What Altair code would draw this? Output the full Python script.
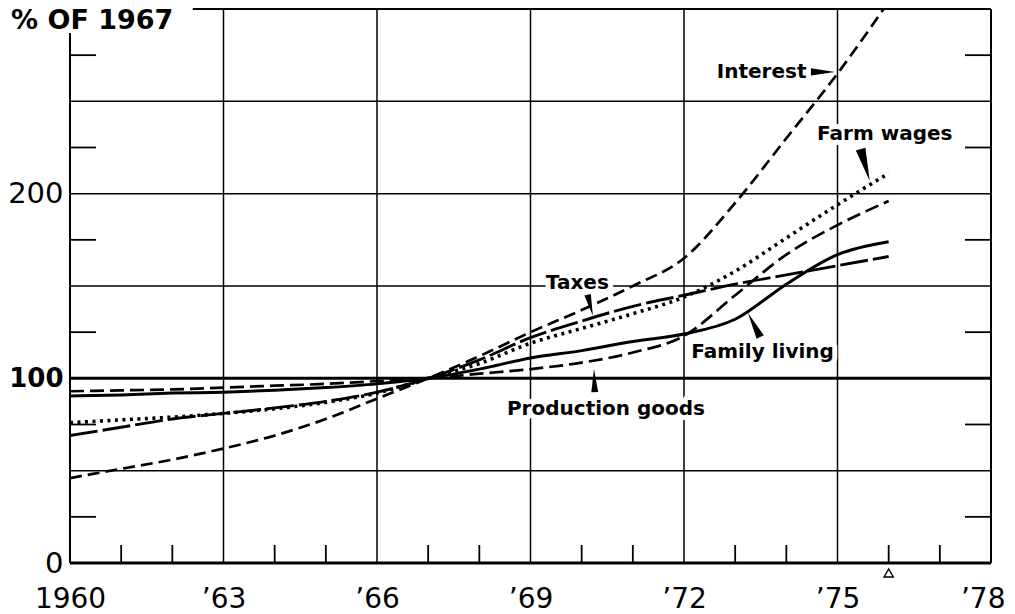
import altair as alt
import pandas as pd

# ---------------- data ----------------
years = list(range(1960, 1977))
interest = [46, 51, 56, 62, 69, 78, 89, 100, 112, 125, 137, 150, 165, 195, 230, 265, 304]
taxes = [69, 73.5, 78, 81, 84, 87.5, 92.5, 100, 110, 122, 131, 139, 145, 151, 156, 161, 166]
farm_wages = [76, 77.5, 79, 81, 83.5, 87, 92, 100, 108, 119, 127, 135, 144, 158, 176, 194, 211]
family_living = [90.5, 91, 92, 92.5, 93.5, 95, 97, 100, 105, 111, 115, 120, 124, 132, 151, 167, 174]
production_goods = [93, 93.5, 94, 95, 96, 97, 98.5, 100, 102.5, 105, 108.5, 114, 123, 145, 167, 183, 196]

series_names = ["Interest", "Taxes", "Farm wages", "Family living", "Production goods"]
series_values = [interest, taxes, farm_wages, family_living, production_goods]

# annotation labels (data coordinates of text start / baseline)
label_text = ["Interest", "Farm wages", "Taxes", "Family living", "Production goods"]
label_year = [1972.64, 1974.6, 1969.3, 1972.14, 1968.54]
label_value = [262.6, 229.0, 148.4, 111.0, 80.1]

# pointer wedges (tip position in data coordinates)
arrow_year = [1974.95, 1975.63, 1970.22, 1973.25, 1970.24]
arrow_value = [265.9, 206.9, 133.7, 135.4, 105.0]
arrow_angle = [90, 164, 166, 333, 358]
arrow_length = [24, 33, 22, 27, 23]

# axis / grid structure
major_years = [1960, 1963, 1966, 1969, 1972, 1975, 1978]
minor_years = [y for y in range(1961, 1978) if y not in major_years]
y_label_values = [0, 100, 200]
grid_values = [50, 150, 200, 250]
minor_values = [25, 75, 125, 175, 225, 275]
title_text = "% OF 1967"
prelim_year = [1976]

# ---------------- styling ----------------
W, H = 921, 554
FONT = "DejaVu Sans"
line_styles = {
    "Interest": dict(strokeDash=[12, 6], strokeWidth=2.7),
    "Taxes": dict(strokeDash=[28, 5], strokeWidth=2.9),
    "Farm wages": dict(strokeDash=[3, 4.5], strokeWidth=3.6),
    "Family living": dict(strokeWidth=3.0),
    "Production goods": dict(strokeDash=[14, 6], strokeWidth=2.7),
}

xs = alt.Scale(domain=[1960, 1978], nice=False, zero=False)
ys = alt.Scale(domain=[0, 300], nice=False, zero=False)

xaxis = alt.Axis(
    values=major_years,
    labelExpr="datum.value == 1960 ? '1960' : '\u2019' + substring(toString(datum.value), 2, 4)",
    grid=False, domain=False, ticks=False, tickSize=0,
    labelFont=FONT, labelFontSize=28, labelColor="black",
    labelPadding=44, labelBaseline="alphabetic",
    labelAlign=alt.condition("datum.value == 1978", alt.value("right"), alt.value("center")),
    labelOffset=alt.condition("datum.value == 1978", alt.value(14), alt.value(0)),
    labelFlush=False, labelOverlap=False, title=None,
)
yaxis = alt.Axis(
    values=y_label_values,
    grid=False, domain=False, ticks=False, tickSize=0,
    labelFont=FONT, labelColor="black",
    labelFontSize=alt.condition("datum.value == 100", alt.value(26), alt.value(29)),
    labelFontWeight=alt.condition("datum.value == 100", alt.value("bold"), alt.value("normal")),
    labelPadding=7, labelFlush=False, labelOverlap=False, title=None,
)


def X(field):
    return alt.X(field, type="quantitative", scale=xs, axis=xaxis)


def Y(field):
    return alt.Y(field, type="quantitative", scale=ys, axis=yaxis)


# ---------------- structural lines ----------------
seg = {"x": [], "x2": [], "y": [], "y2": [], "w": []}


def add(x, x2, y, y2, w):
    seg["x"].append(x); seg["x2"].append(x2); seg["y"].append(y); seg["y2"].append(y2); seg["w"].append(w)


for yr in major_years[1:-1]:
    add(yr, yr, 0, 300, 1.5)
for v in grid_values:
    add(1960, 1978, v, v, 1.5)
add(1960, 1978, 100, 100, 3)
add(1960, 1978, 0, 0, 3)
add(1962.4, 1978, 300, 300, 2)   # top frame (interrupted by title)
add(1960, 1960, 0, 287, 2)       # left frame
add(1978, 1978, 0, 300, 2)       # right frame
seg_df = pd.DataFrame(seg)

structure = alt.Chart(seg_df).mark_rule(color="black").encode(
    x=X("x"), x2="x2", y=Y("y"), y2="y2",
    strokeWidth=alt.StrokeWidth("w:Q", scale=None),
)

xticks = alt.Chart(pd.DataFrame({"x": minor_years})).mark_rule(color="black", strokeWidth=1.8).encode(
    x=X("x"), y=alt.value(H), y2=alt.value(H - 18)
)
yticks_l = alt.Chart(pd.DataFrame({"y": minor_values})).mark_rule(color="black", strokeWidth=1.8).encode(
    y=Y("y"), x=alt.value(0), x2=alt.value(26)
)
yticks_r = alt.Chart(pd.DataFrame({"y": minor_values})).mark_rule(color="black", strokeWidth=1.8).encode(
    y=Y("y"), x=alt.value(W - 26), x2=alt.value(W)
)

# ---------------- data lines ----------------
line_layers = []
for name, vals in zip(series_names, series_values):
    df = pd.DataFrame({"year": years, "value": vals, "series": name})
    st = line_styles[name]
    line_layers.append(
        alt.Chart(df).mark_line(interpolate="monotone", color="black", clip=True, strokeCap="butt", **st).encode(
            x=X("year"), y=Y("value")
        )
    )

# ---------------- annotations ----------------
lab_df = pd.DataFrame({"text": label_text, "year": label_year, "value": label_value})
halo = alt.Chart(lab_df).mark_text(
    font=FONT, fontSize=20, fontWeight="bold", align="left", baseline="alphabetic",
    stroke="white", strokeWidth=10, strokeJoin="round", color="white",
).encode(x=X("year"), y=Y("value"), text="text:N")
labels = alt.Chart(lab_df).mark_text(
    font=FONT, fontSize=20, fontWeight="bold", align="left", baseline="alphabetic", color="black",
).encode(x=X("year"), y=Y("value"), text="text:N")

arr_df = pd.DataFrame({
    "year": arrow_year, "value": arrow_value, "angle": arrow_angle,
    "size": [l * l for l in arrow_length],
})
arrows = alt.Chart(arr_df).mark_point(
    shape="M0,0L0.3,2L-0.3,2Z", filled=True, color="black", opacity=1, strokeWidth=0,
).encode(
    x=X("year"), y=Y("value"),
    angle=alt.Angle("angle:Q", scale=None),
    size=alt.Size("size:Q", scale=None),
)

title = alt.Chart(pd.DataFrame({"t": [title_text]})).mark_text(
    font=FONT, fontSize=27, fontWeight="bold", align="left", baseline="alphabetic", color="black",
).encode(x=alt.value(-59), y=alt.value(20), text="t:N")

prelim = alt.Chart(pd.DataFrame({"year": prelim_year})).mark_point(
    shape="triangle-up", filled=False, color="black", strokeWidth=1.4, size=85, opacity=1,
).encode(x=X("year"), y=alt.value(H + 10))

chart = alt.layer(
    structure, xticks, yticks_l, yticks_r, *line_layers, halo, labels, arrows, title, prelim
).properties(
    width=W, height=H,
    autosize=alt.AutoSizeParams(type="none"),
    padding={"left": 62, "top": 1, "right": 16, "bottom": 50},
    background="white",
).configure_view(stroke=None)

chart.save("out.html", embed_options={"renderer": "svg", "actions": False})
